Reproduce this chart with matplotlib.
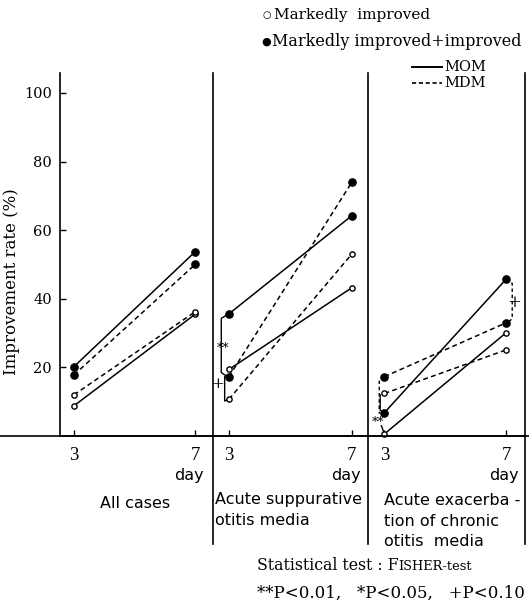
import matplotlib.pyplot as plt
from matplotlib.lines import Line2D

# values (improvement rate, %), day 3 and day 7
days = [3, 7]
panel_names = ["All cases",
               "Acute suppurative\notitis media",
               "Acute exacerba -\ntion of chronic\notitis  media"]
mom_marked_plus = [[20.2, 53.7], [35.6, 64.2], [6.8, 45.7]]
mdm_marked_plus = [[17.8, 50.0], [17.3, 73.9], [17.3, 33.0]]
mom_marked = [[8.8, 35.5], [19.4, 43.2], [0.6, 30.1]]
mdm_marked = [[12.0, 36.2], [10.7, 53.0], [12.4, 25.1]]
yticks = [20, 40, 60, 80, 100]

W, H = 529, 604
fig = plt.figure(figsize=(W / 100, H / 100), dpi=100)
serif = "DejaVu Serif"
times = "Liberation Serif"
sans = "DejaVu Sans"


def fx(px):
    return px / W


def fy(py):
    return 1 - py / H


top, bottom = 73, 436
# panel pixel edges and x-limits (day 3 / day 7 positions)
edges = [(60, 213), (213, 368), (368, 525)]
xlims = [(2.54, 7.59), (2.48, 7.53), (2.46, 7.62)]
day_x = [6.78, 6.8, 6.92]
dash = (0, (3.2, 2.2))
lw = 1.1

axes = []
for i, ((x0, x1), xl) in enumerate(zip(edges, xlims)):
    ax = fig.add_axes([fx(x0), fy(bottom), fx(x1 - x0), (bottom - top) / H])
    ax.set_xlim(*xl)
    ax.set_ylim(0, 105.8)
    for s in ["top", "right"]:
        ax.spines[s].set_visible(False)
    if i == 2:
        ax.spines["right"].set_visible(True)
    for s in ax.spines.values():
        s.set_linewidth(1.2)
    ax.set_xticks(days)
    ax.set_xticklabels(["3", "7"], fontfamily=times, fontsize=13.5)
    ax.tick_params(axis="x", direction="in", length=4, width=1, pad=8)
    if i == 0:
        ax.set_yticks(yticks)
        ax.set_yticklabels([str(v) for v in yticks], fontfamily=serif, fontsize=10.5)
        ax.tick_params(axis="y", direction="in", length=4.5, width=1, pad=6)
    else:
        ax.set_yticks([])

    # lines
    ax.plot(days, mom_marked_plus[i], color="black", lw=lw, ls="-",
            marker="o", ms=5.2, mfc="black", mec="black", clip_on=False, zorder=3)
    ax.plot(days, mdm_marked_plus[i], color="black", lw=lw, ls=dash,
            marker="o", ms=5.2, mfc="black", mec="black", clip_on=False, zorder=3)
    ax.plot(days, mom_marked[i], color="black", lw=lw, ls="-",
            marker="o", ms=3.8, mfc="white", mec="black", mew=1, clip_on=False, zorder=3)
    ax.plot(days, mdm_marked[i], color="black", lw=lw, ls=dash,
            marker="o", ms=3.8, mfc="white", mec="black", mew=1, clip_on=False, zorder=3)

    ax.text(day_x[i], -11.6, "day", ha="center", va="center", fontfamily=sans, fontsize=11.5)
    axes.append(ax)

# significance brackets
ax2, ax3 = axes[1], axes[2]
ax2.plot([3, 2.75, 2.75, 2.95], [mom_marked_plus[1][0], mom_marked_plus[1][0] - 1.3, 18.5, mdm_marked_plus[1][0]],
         color="black", lw=1, clip_on=False)
ax2.plot([2.86, 2.86, 3], [mdm_marked_plus[1][0], mdm_marked[1][0] - 0.5, mdm_marked[1][0]],
         color="black", lw=1, clip_on=False)
ax2.text(2.82, 25.5, "**", ha="center", va="center", fontsize=9, fontfamily=serif)
ax2.text(2.64, 15.3, "+", ha="center", va="center", fontsize=11, fontfamily=serif)

ax3.plot([3, 2.83, 2.83], [mdm_marked_plus[2][0], 16, 6.5], color="black", lw=1, ls=(0, (2.5, 2)), clip_on=False)
ax3.plot([2.86, 2.86, 3], [12, 7.5, mom_marked_plus[2][0]], color="black", lw=1, clip_on=False)
ax3.plot([2.9, 3], [3.0, mom_marked[2][0]], color="black", lw=1, clip_on=False)
ax3.text(2.8, 3.8, "**", ha="center", va="center", fontsize=9, fontfamily=serif)
ax3.plot([7, 7.2, 7.2, 7.05], [mom_marked_plus[2][1], 44.5, 34.2, mdm_marked_plus[2][1]],
         color="black", lw=1, ls=(0, (2.5, 2)), clip_on=False)
ax3.text(7.27, 38.8, "+", ha="center", va="center", fontsize=12, fontfamily=serif)

# frame lines below the plots
fig.add_artist(Line2D([0, 1], [fy(bottom), fy(bottom)], color="black", lw=1.2))
for xp in [213, 368, 525]:
    fig.add_artist(Line2D([fx(xp), fx(xp)], [fy(bottom), fy(544)], color="black", lw=1.2))

# panel names
fig.text(fx(100), fy(503), panel_names[0], ha="left", va="center", fontfamily=sans, fontsize=11.5)
fig.text(fx(215), fy(510), panel_names[1], ha="left", va="center", fontfamily=sans, fontsize=11.5,
         linespacing=1.45)
fig.text(fx(384), fy(521), panel_names[2], ha="left", va="center", fontfamily=sans, fontsize=11.5,
         linespacing=1.45)

# y label
fig.text(fx(12), fy(282), "Improvement rate (%)", rotation=90, ha="center", va="center",
         fontfamily=serif, fontsize=12)

# legend
fig.text(fx(267), fy(15), "○", ha="center", va="center", fontsize=7, fontfamily=sans)
fig.text(fx(274), fy(15), "Markedly  improved", ha="left", va="center", fontfamily=serif, fontsize=11)
fig.text(fx(266), fy(42), "●", ha="center", va="center", fontsize=8, fontfamily=sans)
fig.text(fx(272), fy(42), "Markedly improved+improved", ha="left", va="center", fontfamily=serif, fontsize=11.5)
fig.add_artist(Line2D([fx(412), fx(442)], [fy(67), fy(67)], color="black", lw=1.4))
fig.add_artist(Line2D([fx(412), fx(442)], [fy(83), fy(83)], color="black", lw=1.2, ls=(0, (2.5, 1.6))))
fig.text(fx(444), fy(67), "MOM", ha="left", va="center", fontfamily=serif, fontsize=10.5)
fig.text(fx(444), fy(83), "MDM", ha="left", va="center", fontfamily=serif, fontsize=10.5)

# footnote
t1 = fig.text(fx(257), fy(565), "Statistical test : F", ha="left", va="center", fontfamily=serif, fontsize=11.3)
ax3.annotate("ISHER-test", xy=(1, 0.22), xycoords=t1, ha="left", va="baseline",
             fontfamily=serif, fontsize=9.3)
fig.text(fx(257), fy(593), "**P<0.01,   *P<0.05,   +P<0.10", ha="left", va="center",
         fontfamily=serif, fontsize=12)

fig.savefig("out.png", dpi=100)
